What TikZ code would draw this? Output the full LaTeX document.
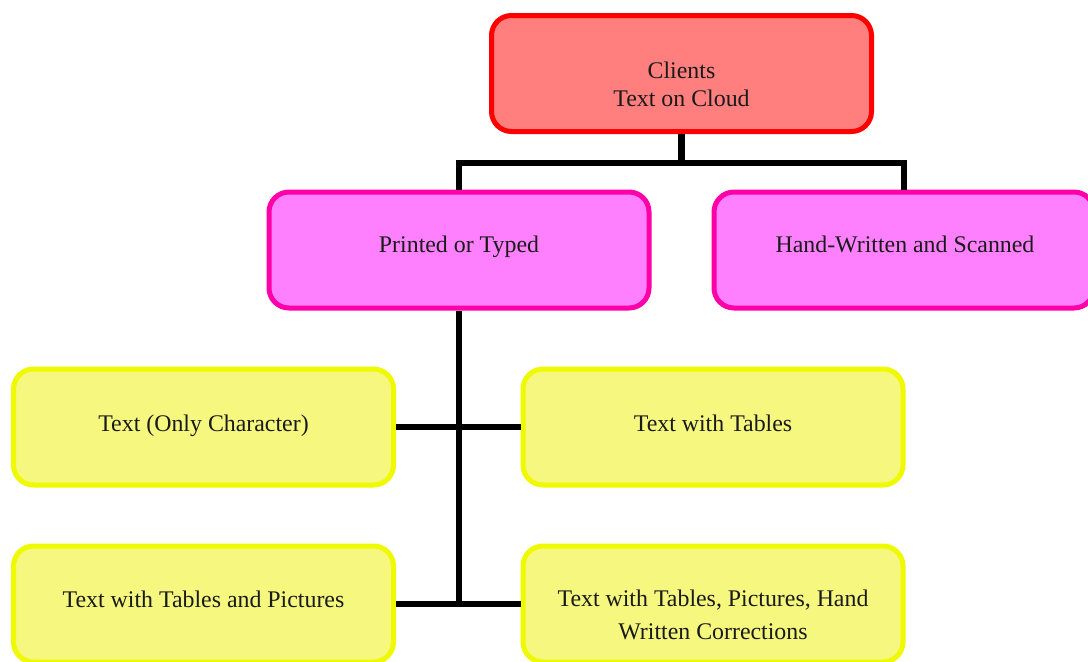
\documentclass[tikz,border=0pt]{standalone}
\usepackage{fontspec}
\setmainfont{Liberation Serif}
\definecolor{cfill}{HTML}{FF7F7F}
\definecolor{cdraw}{HTML}{FF0000}
\definecolor{pfill}{HTML}{FF80FF}
\definecolor{pdraw}{HTML}{FF00A8}
\definecolor{yfill}{HTML}{F5F77F}
\definecolor{ydraw}{HTML}{EFFA00}
\definecolor{txt}{HTML}{1A1A1A}
\begin{document}
\begin{tikzpicture}[x=0.75pt,y=-0.75pt,
  box/.style={rounded corners=15pt, line width=3.75pt, minimum width=285pt, minimum height=87pt, inner sep=0pt},
  rbox/.style={box, fill=cfill, draw=cdraw},
  pbox/.style={box, fill=pfill, draw=pdraw},
  ybox/.style={box, fill=yfill, draw=ydraw},
  lbl/.style={text=txt, font=\fontsize{17.9}{21.3}\selectfont, align=center, inner sep=0pt, anchor=base},
  conn/.style={line width=4.9pt, draw=black}]
\useasboundingbox (0,0) rectangle (1088,661);
\node[rbox] (cl) at (681.5,73.5) {};
\node[pbox] (pt) at (459,250) {};
\node[pbox] (hw) at (904,250) {};
\node[ybox] (to) at (203.5,427) {};
\node[ybox] (tt) at (713,427) {};
\node[ybox] (tp) at (203.5,604) {};
\node[ybox] (th) at (713,604) {};
% connectors
\coordinate (j1) at (681.5,163);
\coordinate (jl) at (459,163);
\coordinate (jr) at (904,163);
\coordinate (m1) at (459,427);
\coordinate (m2) at (459,604);
\draw[conn] (cl.south) -- (j1);
\draw[conn,line cap=rect] (jl) -- (jr);
\draw[conn] (jl) -- (pt.north);
\draw[conn] (jr) -- (hw.north);
\draw[conn] (pt.south) -- (m2);
\draw[conn] (to.east) -- (tt.west);
\draw[conn] (tp.east) -- (th.west);
% labels
\node[lbl] (clt) at (681.5,106.7) {Clients\\Text on Cloud};
\node[lbl] (ptt) at (459,252.7) {Printed or Typed};
\node[lbl] (hwt) at (905,252.7) {Hand-Written and Scanned};
\node[lbl] (tot) at (203.5,431) {Text (Only Character)};
\node[lbl] (ttt) at (713,431) {Text with Tables};
\node[lbl] (tpt) at (203.5,607.3) {Text with Tables and Pictures};
\node[lbl, font=\fontsize{17.9}{24.5}\selectfont] (tht) at (713,639.3) {Text with Tables, Pictures, Hand\\Written Corrections};
\end{tikzpicture}
\end{document}
